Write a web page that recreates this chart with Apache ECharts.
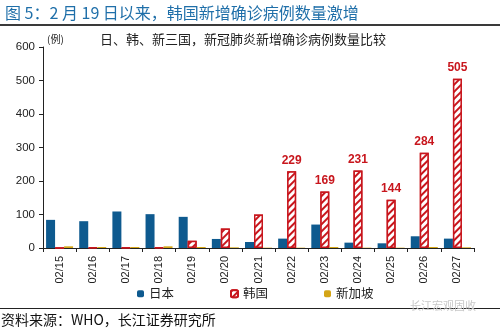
<!DOCTYPE html>
<html><head><meta charset="utf-8">
<script src="https://cdn.jsdelivr.net/npm/echarts@6/dist/echarts.min.js"></script>
<style>html,body{margin:0;padding:0;background:#fff}#c{width:500px;height:332px}</style>
</head><body><div id="c"></div>
<script>
var categories = ['02/15','02/16','02/17','02/18','02/19','02/20','02/21','02/22','02/23','02/24','02/25','02/26','02/27'];
var japan = [84, 80, 109, 101, 93, 27, 18, 28, 70, 16, 14, 35, 28];
var korea = [0, 2, 1, 1, 22, 58, 100, 229, 169, 231, 144, 284, 505];
var singapore = [5, 3, 3, 5, 3, 2, 1, 1, 3, 1, 1, 3, 2];
var koreaLabelFrom = 7;
var yTicks = [0, 100, 200, 300, 400, 500, 600];

var font = '"Noto Sans CJK SC", "Liberation Sans", Arial, sans-serif';
var chart = echarts.init(document.getElementById('c'));
var red = '#c8161d';
var koreaData = korea.map(function (v, i) {
  return { value: v, label: { show: i >= koreaLabelFrom } };
});
chart.setOption({
  animation: false,
  textStyle: { fontFamily: font },
  title: {
    text: '图 5：2 月 19 日以来，韩国新增确诊病例数量激增',
    left: 0, top: 0,
    textStyle: { color: '#1f6fa9', fontSize: 16, fontWeight: 'normal', fontFamily: font }
  },
  graphic: [
    { type: 'rect', shape: { x: 0, y: 24, width: 500, height: 2 }, style: { fill: '#3a3a3a' } },
    { type: 'text', left: 47, top: 34, style: { text: '(例)', font: '10px ' + font, fill: '#222' } },
    { type: 'text', left: 100, top: 33, style: { text: '日、韩、新三国，新冠肺炎新增确诊病例数量比较', font: '13px ' + font, fill: '#222' } },
    { type: 'rect', shape: { x: 0, y: 308, width: 500, height: 1 }, style: { fill: '#222' } },
    { type: 'text', left: 1, top: 313, style: { text: '资料来源：WHO，长江证券研究所', font: '14px ' + font, fill: '#111' } },
    { type: 'text', left: 410, top: 300, style: { text: '长江宏观固收', font: '11px ' + font, fill: '#c8c8c8' } }
  ],
  grid: { left: 43, right: 26, top: 47, bottom: 84 },
  legend: {
    bottom: 27, left: 132,
    itemWidth: 7, itemHeight: 7, itemGap: 56,
    textStyle: { fontSize: 12.5, color: '#222', fontFamily: font },
    data: ['日本', '韩国', '新加坡']
  },
  xAxis: {
    type: 'category', data: categories,
    axisLine: { lineStyle: { color: '#222' } },
    axisTick: { show: true, length: 4, lineStyle: { color: '#222' } },
    axisLabel: { rotate: 90, fontSize: 11, color: '#222', margin: 8, fontFamily: '"Liberation Sans", Arial, sans-serif' }
  },
  yAxis: {
    type: 'value', min: 0, max: 600, interval: 100,
    splitLine: { show: false },
    axisLine: { show: true, lineStyle: { color: '#222' } },
    axisTick: { show: true, inside: false, length: 4, lineStyle: { color: '#222' } },
    axisLabel: { fontSize: 11.5, color: '#222', margin: 8, fontFamily: '"Liberation Sans", Arial, sans-serif' }
  },
  series: [
    { name: '日本', type: 'bar', data: japan, barWidth: 9, barGap: '0%',
      itemStyle: { color: '#0e5a8f' } },
    { name: '韩国', type: 'bar', data: koreaData, barWidth: 9, barGap: '0%',
      itemStyle: { color: '#ffffff', borderColor: red, borderWidth: 1.5,
        decal: { symbol: 'rect', symbolSize: 1, dashArrayX: [[1, 0]], dashArrayY: [2, 2.5], rotation: -Math.PI / 4, color: red, backgroundColor: '#ffffff' } },
      label: { position: 'top', distance: 5, color: red, fontWeight: 'bold', fontSize: 12, fontFamily: '"Liberation Sans", Arial, sans-serif' } },
    { name: '新加坡', type: 'bar', data: singapore, barWidth: 9, barGap: '0%',
      itemStyle: { color: '#d4a516' } }
  ]
});
</script></body></html>
